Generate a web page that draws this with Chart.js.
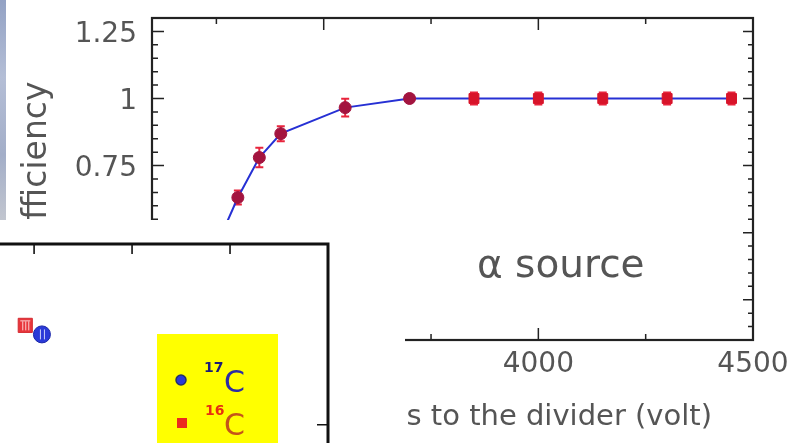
<!DOCTYPE html>
<html>
<head>
<meta charset="utf-8">
<script src="https://cdn.jsdelivr.net/npm/chart.js@4.4.1/dist/chart.umd.min.js"></script>
<style>
  html, body { margin: 0; padding: 0; background: #fff; }
  #wrap { position: relative; width: 793px; height: 443px; overflow: hidden; background: #fff; }
  #main { position: absolute; left: 0; top: 0; }
  #edge { position: absolute; left: 0; top: 0; width: 6px; height: 221px;
          background: linear-gradient(180deg, #93a2c4 0%, #b4bed6 35%, #a3aec8 70%, #c2c6cf 100%); }
  #insetBox { position: absolute; left: 0; top: 220px; width: 405px; height: 223px;
              background: #fff; overflow: hidden; }
  #inset { position: absolute; left: -30px; top: 0; }
</style>
</head>
<body>
<div id="wrap">
  <canvas id="main" width="793" height="443"></canvas>
  <div id="edge"></div>
  <div id="insetBox"><canvas id="inset" width="435" height="300"></canvas></div>
</div>
<script>
// Detector efficiency versus the high voltage on the divider
const voltage       = [3250, 3300, 3350, 3400, 3550, 3700, 3850, 4000, 4150, 4300, 4450];
const efficiency    = [0.45, 0.631, 0.78, 0.869, 0.966, 1.0, 1.0, 1.0, 1.0, 1.0, 1.0];
const efficiencyErr = [0.03, 0.026, 0.036, 0.028, 0.033, 0, 0.022, 0.022, 0.022, 0.022, 0.022];

const xMajorTicks = [3500, 4000, 4500];
const xMinorTicks = [3250, 3750, 4250];
const yMajorTicks = [0.25, 0.5, 0.75, 1, 1.25];

// Inset: carbon isotopes
const c17x = [1.08];
const c17y = [0.50];
const c16x = [0.91];
const c16y = [0.55];
const insetXTicks = [1, 2, 3];
const insetYTicks = [0];

const FONT = "'DejaVu Sans', sans-serif";
const TEXT = '#555555';

const errorBars = {
  id: 'errorBars',
  beforeDatasetsDraw(chart) {
    const { ctx, scales: { x, y } } = chart;
    ctx.save();
    ctx.strokeStyle = '#e8243c';
    ctx.lineWidth = 2;
    voltage.forEach((v, i) => {
      const e = efficiencyErr[i];
      if (!e) return;
      const px = x.getPixelForValue(v);
      const y1 = y.getPixelForValue(efficiency[i] + e);
      const y2 = y.getPixelForValue(efficiency[i] - e);
      ctx.beginPath();
      ctx.moveTo(px, y1); ctx.lineTo(px, y2);
      ctx.moveTo(px - 4, y1); ctx.lineTo(px + 4, y1);
      ctx.moveTo(px - 4, y2); ctx.lineTo(px + 4, y2);
      ctx.stroke();
    });
    ctx.restore();
  }
};

const mainFrame = {
  id: 'mainFrame',
  afterDraw(chart) {
    const { ctx, chartArea: { left, right, top, bottom }, scales: { x, y } } = chart;
    ctx.save();
    ctx.strokeStyle = '#222';
    ctx.lineWidth = 1.5;
    ctx.beginPath();
    xMajorTicks.forEach(v => {
      const px = x.getPixelForValue(v);
      ctx.moveTo(px, bottom); ctx.lineTo(px, bottom - 12);
      ctx.moveTo(px, top); ctx.lineTo(px, top + 12);
    });
    xMinorTicks.forEach(v => {
      const px = x.getPixelForValue(v);
      ctx.moveTo(px, bottom); ctx.lineTo(px, bottom - 6);
      ctx.moveTo(px, top); ctx.lineTo(px, top + 6);
    });
    for (let k = 2; k <= 26; k++) {
      const v = k * 0.05;
      const major = k % 5 === 0;
      const py = y.getPixelForValue(v);
      ctx.moveTo(left, py); ctx.lineTo(left + (major ? 12 : 6), py);
      ctx.moveTo(right, py); ctx.lineTo(right - (major ? 10 : 5), py);
    }
    ctx.stroke();
    ctx.lineWidth = 2.2;
    ctx.strokeRect(left, top, right - left, bottom - top);

    // axis titles and annotation
    ctx.fillStyle = TEXT;
    ctx.font = `33px ${FONT}`;
    ctx.save();
    ctx.translate(46, 161);
    ctx.rotate(-Math.PI / 2);
    ctx.textAlign = 'center';
    ctx.textBaseline = 'alphabetic';
    ctx.fillText('Efficiency', 0, 0);
    ctx.restore();

    ctx.font = `29px ${FONT}`;
    ctx.textAlign = 'right';
    ctx.textBaseline = 'alphabetic';
    ctx.fillText('High voltage bias to the divider (volt)', 712, 425);

    ctx.font = `39px ${FONT}`;
    ctx.textAlign = 'left';
    ctx.fillText('\u03B1 source', 477, 277);
    ctx.restore();
  }
};

const isCircle = c => c.parsed && c.parsed.x <= 3700;

new Chart(document.getElementById('main'), {
  type: 'line',
  data: {
    datasets: [{
      data: voltage.map((v, i) => ({ x: v, y: efficiency[i] })),
      borderColor: '#2630d4',
      borderWidth: 2,
      tension: 0,
      pointStyle: c => (isCircle(c) ? 'circle' : 'rect'),
      pointRadius: c => (isCircle(c) ? 6 : 7),
      pointBackgroundColor: c => (isCircle(c) ? '#a3143f' : '#d8142a'),
      pointBorderColor: c => (isCircle(c) ? '#a3143f' : '#d8142a'),
      pointBorderWidth: 1,
      clip: false
    }]
  },
  options: {
    responsive: false,
    animation: false,
    events: [],
    layout: { padding: { left: 0, top: 18, right: 40, bottom: 0 } },
    plugins: { legend: { display: false }, tooltip: { enabled: false } },
    scales: {
      x: {
        type: 'linear', min: 3100, max: 4500,
        grid: { display: false, drawTicks: false },
        border: { display: false },
        afterBuildTicks: s => { s.ticks = xMajorTicks.map(v => ({ value: v })); },
        afterFit: s => { s.height = 103; s.paddingLeft = 0; s.paddingRight = 0; },
        ticks: {
          padding: 8, color: TEXT, font: { family: FONT, size: 28 },
          maxRotation: 0, autoSkip: false,
          callback: v => String(v)
        }
      },
      y: {
        type: 'linear', min: 0.1, max: 1.3,
        grid: { display: false, drawTicks: false },
        border: { display: false },
        afterBuildTicks: s => { s.ticks = yMajorTicks.map(v => ({ value: v })); },
        afterFit: s => { s.width = 152; s.paddingTop = 0; s.paddingBottom = 0; },
        ticks: {
          padding: 15, labelOffset: 3, color: TEXT, font: { family: FONT, size: 28 },
          autoSkip: false,
          callback: v => String(v)
        }
      }
    }
  },
  plugins: [errorBars, mainFrame]
});

const insetFrame = {
  id: 'insetFrame',
  afterDatasetsDraw(chart) {
    // pale stripes across the overlapping markers
    const { ctx, scales: { x, y } } = chart;
    ctx.save();
    ctx.strokeStyle = 'rgba(255,235,235,0.85)';
    ctx.lineWidth = 1;
    c16x.forEach((v, i) => {
      const px = x.getPixelForValue(v), py = y.getPixelForValue(c16y[i]);
      ctx.beginPath();
      [-3, 0, 3].forEach(d => { ctx.moveTo(px + d + 0.5, py - 4); ctx.lineTo(px + d + 0.5, py + 5); });
      ctx.moveTo(px - 5, py - 4.5); ctx.lineTo(px + 5, py - 4.5);
      ctx.stroke();
    });
    ctx.strokeStyle = 'rgba(230,235,255,0.85)';
    c17x.forEach((v, i) => {
      const px = x.getPixelForValue(v), py = y.getPixelForValue(c17y[i]);
      ctx.beginPath();
      [-2, 2].forEach(d => { ctx.moveTo(px + d + 0.5, py - 5); ctx.lineTo(px + d + 0.5, py + 5); });
      ctx.stroke();
    });
    ctx.restore();
  },
  afterDraw(chart) {
    const { ctx, chartArea: { left, right, top, bottom }, scales: { x, y } } = chart;
    ctx.save();
    ctx.strokeStyle = '#111';
    ctx.lineWidth = 1.6;
    ctx.beginPath();
    insetXTicks.forEach(v => {
      const px = x.getPixelForValue(v);
      ctx.moveTo(px, top); ctx.lineTo(px, top + 10);
    });
    insetYTicks.forEach(v => {
      const py = y.getPixelForValue(v);
      ctx.moveTo(right, py); ctx.lineTo(right - 11, py);
    });
    ctx.stroke();
    ctx.lineWidth = 3;
    ctx.strokeRect(left, top, right - left, bottom - top);
    ctx.restore();
  }
};

const insetLegend = {
  id: 'insetLegend',
  afterDraw(chart) {
    const { ctx } = chart;
    ctx.save();
    ctx.fillStyle = '#ffff00';
    ctx.fillRect(187, 114, 121, 140);

    // 17C marker
    ctx.beginPath();
    ctx.arc(211, 160, 5, 0, Math.PI * 2);
    ctx.fillStyle = '#2a3ad8';
    ctx.fill();
    ctx.lineWidth = 1.5;
    ctx.strokeStyle = '#23306a';
    ctx.stroke();
    // 16C marker
    ctx.fillStyle = '#ec2a1e';
    ctx.fillRect(207, 198, 10, 10);

    ctx.textAlign = 'left';
    ctx.textBaseline = 'alphabetic';
    ctx.font = `bold 14px ${FONT}`;
    ctx.fillStyle = '#1b1b78';
    ctx.fillText('17', 234, 152);
    ctx.font = `30px ${FONT}`;
    ctx.fillStyle = '#2b2ba6';
    ctx.fillText('C', 254, 172);

    ctx.font = `bold 14px ${FONT}`;
    ctx.fillStyle = '#e83010';
    ctx.fillText('16', 235, 195);
    ctx.font = `30px ${FONT}`;
    ctx.fillStyle = '#c4541a';
    ctx.fillText('C', 254, 215);
    ctx.restore();
  }
};

new Chart(document.getElementById('inset'), {
  type: 'scatter',
  data: {
    datasets: [
      {
        label: '16C',
        data: c16x.map((v, i) => ({ x: v, y: c16y[i] })),
        pointStyle: 'rect', pointRadius: 10,
        pointBackgroundColor: '#e8363c', pointBorderColor: '#d42a30', pointBorderWidth: 1
      },
      {
        label: '17C',
        data: c17x.map((v, i) => ({ x: v, y: c17y[i] })),
        pointStyle: 'circle', pointRadius: 8.5,
        pointBackgroundColor: '#2a3ad8', pointBorderColor: '#1a26a8', pointBorderWidth: 1
      }
    ]
  },
  options: {
    responsive: false,
    animation: false,
    events: [],
    layout: { padding: { left: 20, top: 24, right: 77, bottom: 50 } },
    plugins: { legend: { display: false }, tooltip: { enabled: false } },
    scales: {
      x: { type: 'linear', min: 0.55, max: 4.0, display: false },
      y: { type: 'linear', min: -0.25, max: 1.0, display: false }
    }
  },
  plugins: [insetFrame, insetLegend]
});
</script>
</body>
</html>
